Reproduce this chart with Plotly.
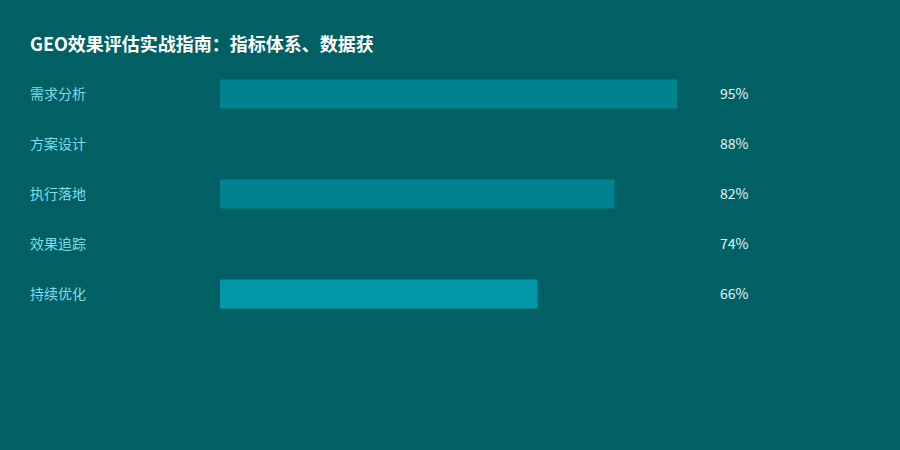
import plotly.graph_objects as go

title = "GEO效果评估实战指南：指标体系、数据获"
categories = ["需求分析", "方案设计", "执行落地", "效果追踪", "持续优化"]
values = [95, 88, 82, 74, 66]
bar_colors = ["#00838F", "#006064", "#00838F", "#006064", "#0097A7"]
value_labels = [f"{v}%" for v in values]

BG = "#006064"
FONT = "Noto Sans CJK SC, Microsoft YaHei, sans-serif"

fig = go.Figure()
fig.add_trace(go.Bar(
    x=values, y=categories, orientation="h",
    marker=dict(color=bar_colors, line=dict(width=0)),
    width=0.58, hoverinfo="skip",
))

annotations = []
for c, lab in zip(categories, value_labels):
    annotations.append(dict(
        x=(720 - 220) / 481, y=c, xref="paper", yref="y", text=lab, showarrow=False,
        xanchor="left", yanchor="middle", xshift=-2, yshift=1,
        font=dict(family=FONT, size=14, color="#E0F7FA"),
    ))
    annotations.append(dict(
        x=(30 - 220) / 481, y=c, xref="paper", yref="y", text=c, showarrow=False,
        xanchor="left", yanchor="middle", xshift=-2, yshift=1,
        font=dict(family=FONT, size=14, color="#80DEEA"),
    ))

fig.update_layout(
    width=900, height=450,
    paper_bgcolor=BG, plot_bgcolor=BG,
    margin=dict(l=220, r=199, t=69, b=131),
    showlegend=False,
    title=dict(text=f"<b>{title}</b>", x=30/900, xanchor="left",
               y=1 - 45/450, yanchor="middle",
               font=dict(family=FONT, size=18, color="#FFFFFF")),
    xaxis=dict(range=[0, 100], visible=False, fixedrange=True),
    yaxis=dict(autorange=False, range=[4.5, -0.5], visible=False, fixedrange=True,
               categoryorder="array", categoryarray=categories),
    annotations=annotations,
)

fig.write_html("out.html", config={"displayModeBar": False},
               post_script="document.body.style.margin='0';document.body.style.overflow='hidden';")
